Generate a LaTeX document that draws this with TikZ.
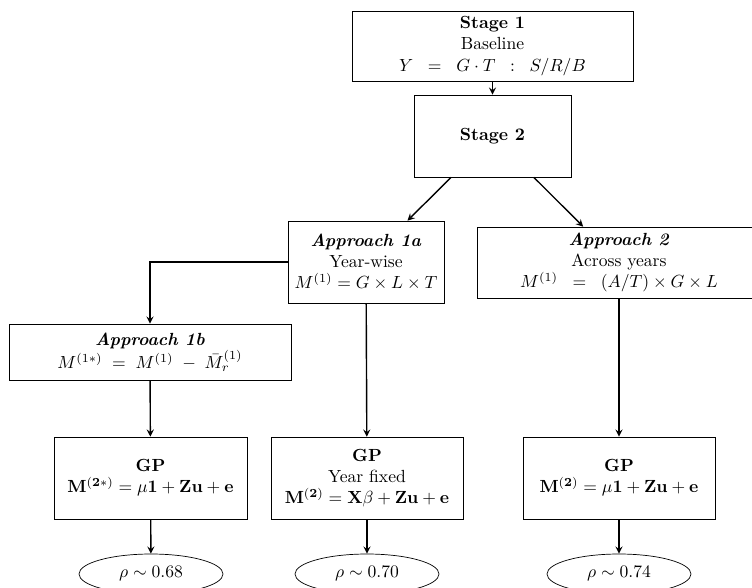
\documentclass[tikz,border=0pt]{standalone}
\usepackage{amsmath}
\usetikzlibrary{arrows,shapes.geometric}

\begin{document}
\begin{tikzpicture}[>=stealth,
  stagebox/.style={draw, align=center, inner sep=0pt},
  result/.style={draw, ellipse, minimum width=2.88cm, minimum height=0.8cm, inner sep=0pt},
  link/.style={->, thick}]

\useasboundingbox (0,0) rectangle (15.04,-11.74);

% stages
\node[stagebox, minimum width=5.62cm, minimum height=1.40cm] (stage1) at (9.85,-0.92)
  {\textbf{Stage 1}\\ Baseline\\ $Y \;\;=\;\; G\cdot T \;\;:\;\; S/R/B$};
\node[stagebox, minimum width=3.14cm, minimum height=1.64cm] (stage2) at (9.85,-2.72) {\textbf{Stage 2}};

% approaches
\node[stagebox, minimum width=3.12cm, minimum height=1.64cm] (app1a) at (7.32,-5.24)
  {\textbf{\textit{Approach 1a}}\\ Year-wise\\ $M^{(1)} = G \times L \times T$};
\node[stagebox, minimum width=5.68cm, minimum height=1.42cm] (app2) at (12.38,-5.25)
  {\textbf{\textit{Approach 2}}\\ Across years\\ $M^{(1)} \;\;=\;\; (A/T) \times G \times L$};
\node[stagebox, minimum width=5.64cm, minimum height=1.12cm] (app1b) at (3.0,-7.04)
  {\textbf{\textit{Approach 1b}}\\ $M^{(1*)} \;=\; M^{(1)} \;-\; \bar{M}^{(1)}_r$};

% GP models
\node[stagebox, minimum width=3.86cm, minimum height=1.64cm] (gp1) at (3.01,-9.56)
  {\textbf{GP}\\ $\mathbf{M}^{(\mathbf{2*})} = \mu\mathbf{1} + \mathbf{Zu} + \mathbf{e}$};
\node[stagebox, minimum width=3.84cm, minimum height=1.64cm] (gp2) at (7.34,-9.56)
  {\textbf{GP}\\ Year fixed\\ $\mathbf{M}^{(\mathbf{2})} = \mathbf{X}\beta + \mathbf{Zu} + \mathbf{e}$};
\node[stagebox, minimum width=3.84cm, minimum height=1.64cm] (gp3) at (12.38,-9.56)
  {\textbf{GP}\\ $\mathbf{M}^{(\mathbf{2})} = \mu\mathbf{1} + \mathbf{Zu} + \mathbf{e}$};

% accuracies
\node[result] (rho1) at (3.02,-11.48) {$\rho \sim 0.68$};
\node[result] (rho2) at (7.34,-11.48) {$\rho \sim 0.70$};
\node[result] (rho3) at (12.38,-11.48) {$\rho \sim 0.74$};

\draw[link] (stage1) -- (stage2);
\draw[link] (stage2) -- (app1a);
\draw[link] (stage2) -- (app2);
\draw[link] (app1a.west) -| (app1b);
\draw[link] (app1a) -- (gp2);
\draw[link] (app1b) -- (gp1);
\draw[link] (app2) -- (gp3);

\foreach \i in {1,2,3}
  \draw[link] (gp\i) -- (rho\i);

\end{tikzpicture}
\end{document}
